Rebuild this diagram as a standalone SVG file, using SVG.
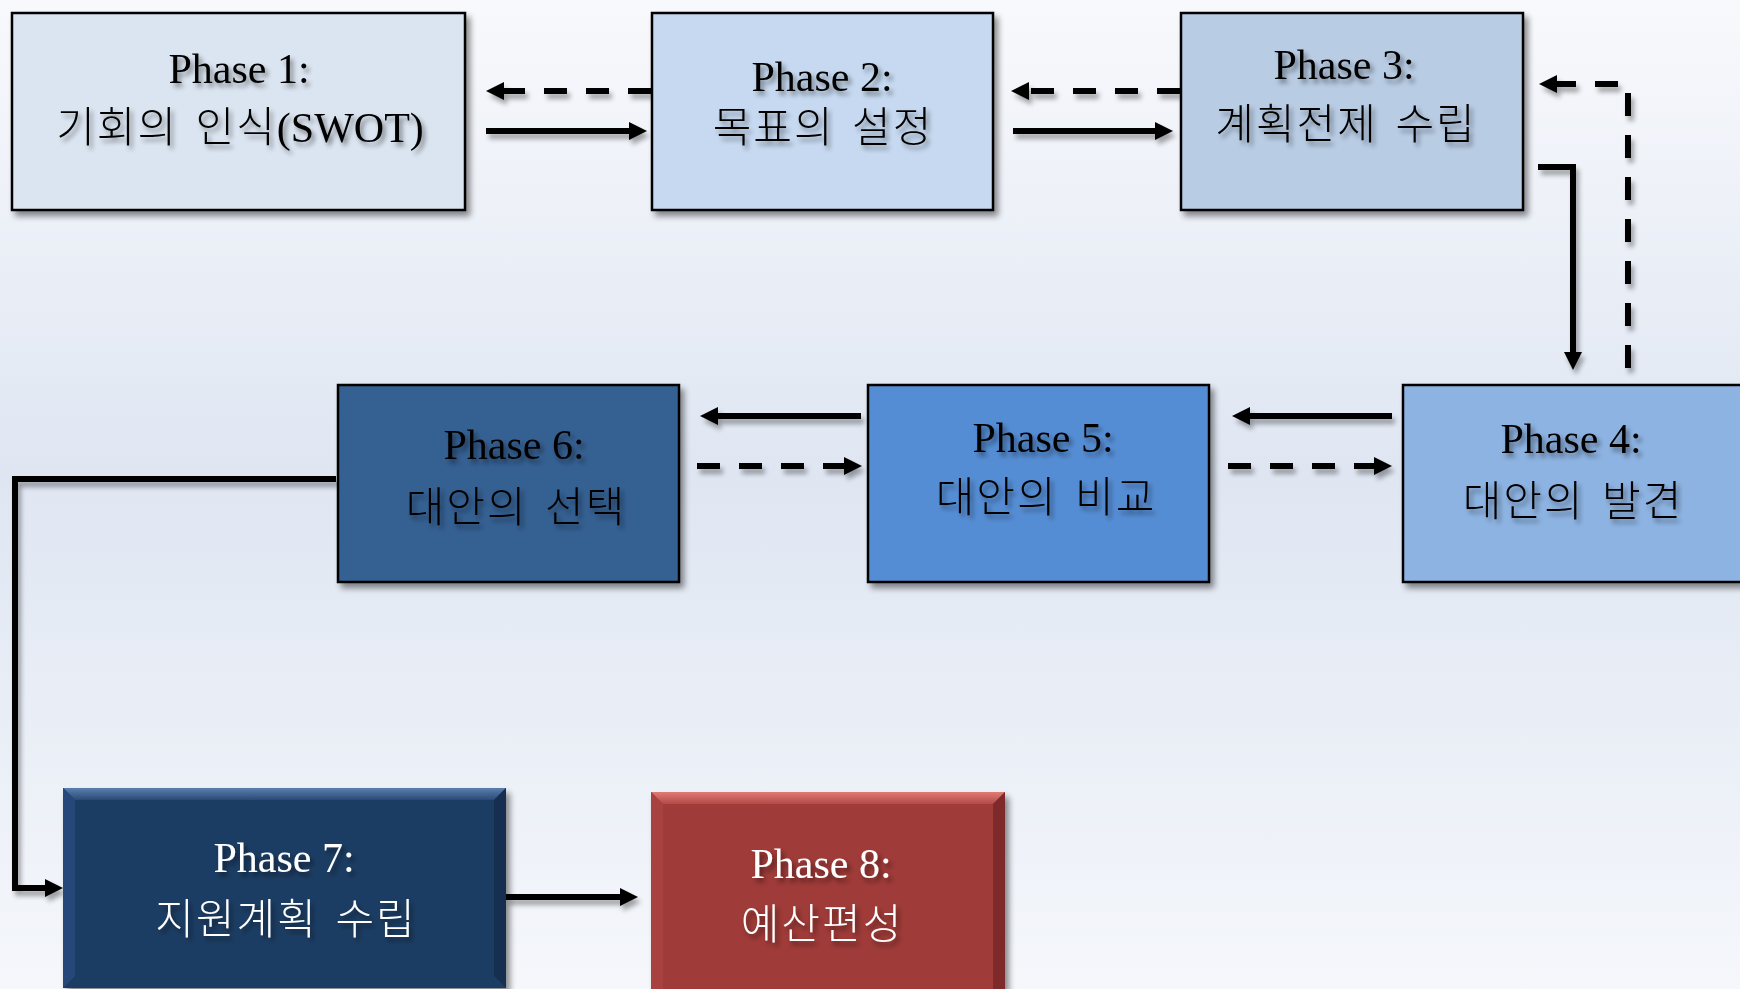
<svg xmlns="http://www.w3.org/2000/svg" width="1740" height="989" viewBox="0 0 1740 989">
<defs>
<linearGradient id="bg" x1="0" y1="0" x2="0" y2="1">
<stop offset="0" stop-color="#f8f9fc"/>
<stop offset="0.48" stop-color="#dfe6f2"/>
<stop offset="1" stop-color="#f5f7fb"/>
</linearGradient>
<linearGradient id="bevBlue" x1="0" y1="0" x2="0" y2="1">
<stop offset="0" stop-color="#5a7fae"/>
<stop offset="1" stop-color="#2a4a77"/>
</linearGradient>
<linearGradient id="bevRed" x1="0" y1="0" x2="0" y2="1">
<stop offset="0" stop-color="#e07b74"/>
<stop offset="1" stop-color="#b24b47"/>
</linearGradient>
<filter id="boxShadow" x="-10%" y="-10%" width="125%" height="130%">
<feGaussianBlur in="SourceAlpha" stdDeviation="3"/>
<feOffset dx="4" dy="5" result="b"/>
<feComponentTransfer><feFuncA type="linear" slope="0.45"/></feComponentTransfer>
<feMerge><feMergeNode/><feMergeNode in="SourceGraphic"/></feMerge>
</filter>
<filter id="lineShadow" x="-5%" y="-5%" width="115%" height="115%">
<feGaussianBlur in="SourceAlpha" stdDeviation="2.5"/>
<feOffset dx="3" dy="5" result="b"/>
<feComponentTransfer><feFuncA type="linear" slope="0.35"/></feComponentTransfer>
<feMerge><feMergeNode/><feMergeNode in="SourceGraphic"/></feMerge>
</filter>
<filter id="txtShadow" x="-10%" y="-30%" width="125%" height="170%">
<feGaussianBlur in="SourceAlpha" stdDeviation="2.5"/>
<feOffset dx="3" dy="4" result="b"/>
<feComponentTransfer><feFuncA type="linear" slope="0.45"/></feComponentTransfer>
<feMerge><feMergeNode/><feMergeNode in="SourceGraphic"/></feMerge>
</filter>
<marker id="ah" viewBox="0 0 18 18" refX="0" refY="9" markerWidth="18" markerHeight="18" markerUnits="userSpaceOnUse" orient="auto">
<path d="M0,0 L18,9 L0,18 Z" fill="#000"/>
</marker>
<style>
.box{stroke:#000;stroke-width:2.5}
.t{font-family:"Liberation Serif","Noto Sans CJK KR",serif;font-size:42px;text-anchor:middle;fill:#000}
.k{font-family:"Liberation Serif","Noto Sans CJK KR",serif;font-size:42px;font-weight:300;text-anchor:middle;fill:#000;letter-spacing:2px;word-spacing:5px}
.w{fill:#fff}
.ln{fill:none;stroke:#000;stroke-width:6;marker-end:url(#ah)}
.d{stroke-dasharray:23 19}
</style>
</defs>
<rect x="0" y="0" width="1740" height="989" fill="url(#bg)"/>

<g id="connectors" filter="url(#lineShadow)">
<path class="ln d" d="M651,91 H504"/>
<path class="ln" d="M486,131 H629"/>
<path class="ln d" d="M1180,91 H1029"/>
<path class="ln" d="M1013,131 H1155"/>
<path class="ln" d="M1538,167 H1573 V352"/>
<path class="ln d" d="M1628,368 V84 H1557"/>
<path class="ln" d="M1392,416 H1250"/>
<path class="ln d" d="M1228,466 H1374"/>
<path class="ln" d="M861,416 H718"/>
<path class="ln d" d="M697,466 H844"/>
<path class="ln" d="M336,479 H15 V888 H45"/>
<path class="ln" d="M506,897 H620"/>
</g>

<g id="phase1">
<rect class="box" x="12" y="13" width="453" height="197" fill="#dbe5f1" filter="url(#boxShadow)"/>
<g filter="url(#txtShadow)">
<text class="t" x="239" y="83">Phase 1:</text>
<text class="k" x="240" y="142">기회의 인식<tspan letter-spacing="0">(SWOT)</tspan></text>
</g>
</g>

<g id="phase2">
<rect class="box" x="652" y="13" width="341" height="197" fill="#c6d9f0" filter="url(#boxShadow)"/>
<g filter="url(#txtShadow)">
<text class="t" x="822" y="91">Phase 2:</text>
<text class="k" x="823" y="142">목표의 설정</text>
</g>
</g>

<g id="phase3">
<rect class="box" x="1181" y="13" width="342" height="197" fill="#b8cce4" filter="url(#boxShadow)"/>
<g filter="url(#txtShadow)">
<text class="t" x="1344" y="79">Phase 3:</text>
<text class="k" x="1346" y="139" word-spacing="14">계획전제 수립</text>
</g>
</g>

<g id="phase4">
<rect class="box" x="1403" y="385" width="341" height="197" fill="#8db3e2" filter="url(#boxShadow)"/>
<g filter="url(#txtShadow)">
<text class="t" x="1571" y="453">Phase 4:</text>
<text class="k" x="1573" y="516">대안의 발견</text>
</g>
</g>

<g id="phase5">
<rect class="box" x="868" y="385" width="341" height="197" fill="#548dd4" filter="url(#boxShadow)"/>
<g filter="url(#txtShadow)">
<text class="t" x="1043" y="452">Phase 5:</text>
<text class="k" x="1046" y="512">대안의 비교</text>
</g>
</g>

<g id="phase6">
<rect class="box" x="338" y="385" width="341" height="197" fill="#366092" filter="url(#boxShadow)"/>
<g filter="url(#txtShadow)">
<text class="t" x="514" y="459">Phase 6:</text>
<text class="k" x="516" y="522">대안의 선택</text>
</g>
</g>

<g id="phase7">
<g filter="url(#boxShadow)">
<rect x="63" y="788" width="443" height="200" fill="#1f3c64"/>
<polygon points="63,788 506,788 494,800 75,800" fill="url(#bevBlue)"/>
<polygon points="63,788 75,800 75,976 63,988" fill="#27477a"/>
<polygon points="506,788 494,800 494,976 506,988" fill="#182f50"/>
</g>
<g filter="url(#txtShadow)">
<text class="t w" x="284" y="872">Phase 7:</text>
<text class="k w" x="286" y="934">지원계획 수립</text>
</g>
</g>

<g id="phase8">
<g filter="url(#boxShadow)">
<rect x="651" y="792" width="354" height="198" fill="#9f3a39"/>
<polygon points="651,792 1005,792 993,804 663,804" fill="url(#bevRed)"/>
<polygon points="651,792 663,804 663,990 651,990" fill="#a84341"/>
<polygon points="1005,792 993,804 993,990 1005,990" fill="#7e2c2b"/>
</g>
<g filter="url(#txtShadow)">
<text class="t w" x="821" y="878">Phase 8:</text>
<text class="k w" x="822" y="939">예산편성</text>
</g>
</g>
</svg>
